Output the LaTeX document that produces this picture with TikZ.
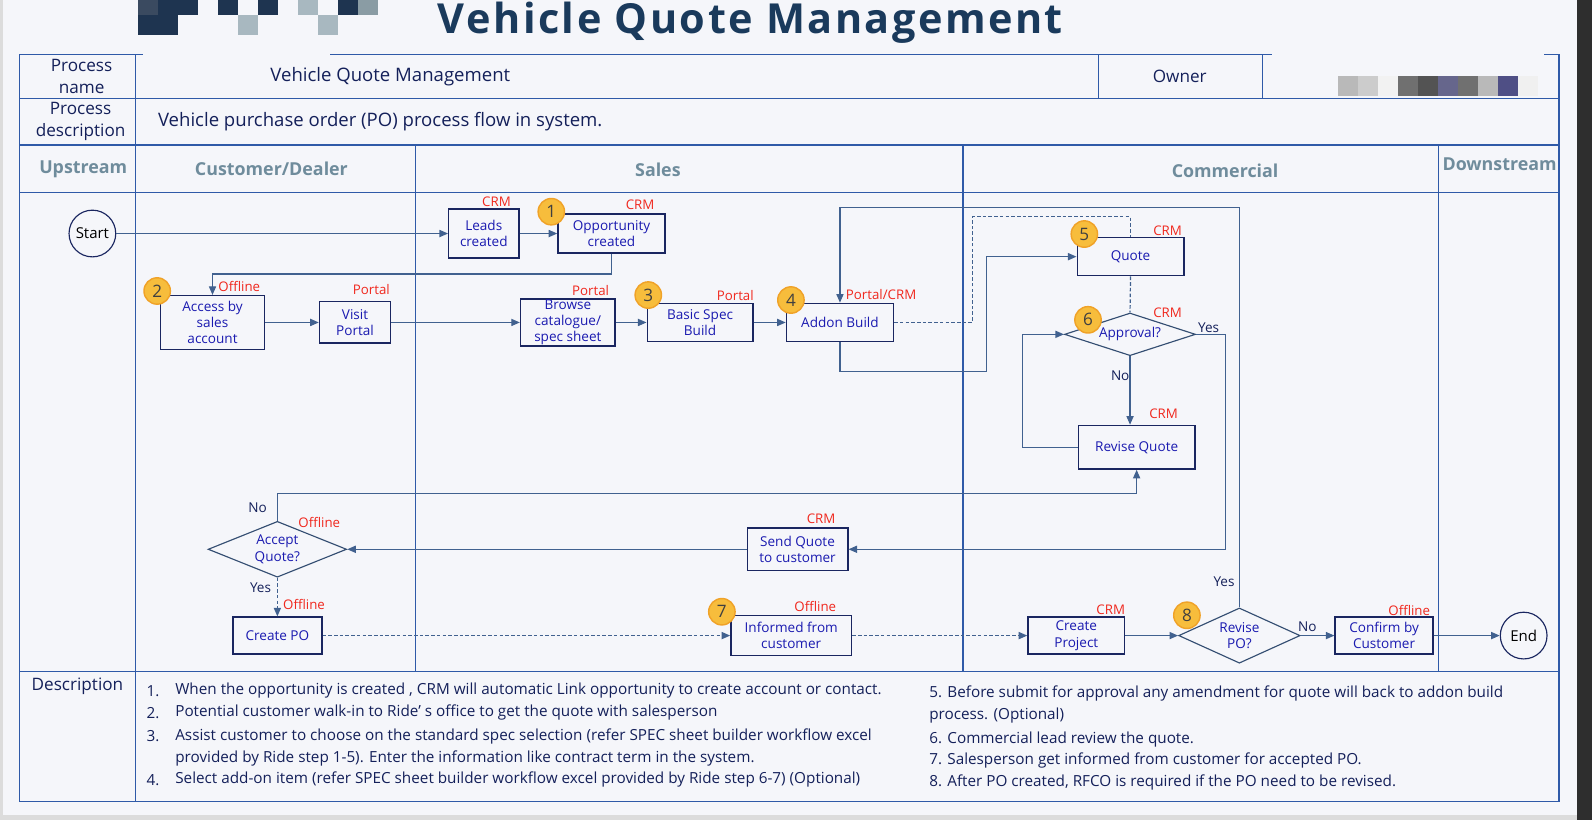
\documentclass[tikz,border=0pt]{standalone}
\usepackage{fontspec}
\setmainfont{Open Sans}
\newfontfamily\titlefont[LetterSpace=6]{Open Sans}
\usepackage{xcolor}
\usetikzlibrary{shapes.geometric, arrows.meta, calc}

\definecolor{pagebg}{HTML}{F5F6FA}
\definecolor{edgegrey}{HTML}{DCDCDC}
\definecolor{darkbar}{HTML}{2E2E2E}
\definecolor{titlenavy}{HTML}{1A3A5C}
\definecolor{gridline}{HTML}{2F5AA8}
\definecolor{lanehead}{HTML}{6F8C9C}
\definecolor{inktext}{HTML}{14205A}
\definecolor{boxtext}{HTML}{1A1AB0}
\definecolor{boxline}{HTML}{1A2660}
\definecolor{flowline}{HTML}{41618F}
\definecolor{tagred}{HTML}{F0281E}
\definecolor{badgefill}{HTML}{F7BD3C}
\definecolor{badgeline}{HTML}{F0A228}
\definecolor{mosnavy}{HTML}{1E3450}
\definecolor{mosslate}{HTML}{3A4A60}
\definecolor{mosgrey}{HTML}{A8B8C0}
\definecolor{mosgreyb}{HTML}{8A9CA4}

\begin{document}
\begin{tikzpicture}[
    x=0.025cm, y=-0.025cm,
    task/.style={rectangle, draw=boxline, line width=1pt, fill=pagebg, text=boxtext, align=center, inner sep=1pt, font=\fontsize{9.5}{11.4}\selectfont},
    decision/.style={diamond, aspect=2.5, draw=flowline!80!black, line width=0.8pt, fill=pagebg, text=boxtext, align=center, inner sep=0pt, font=\fontsize{9.5}{11.4}\selectfont},
    terminal/.style={circle, draw=boxline, line width=0.8pt, fill=pagebg, minimum size=1.15cm, inner sep=0pt, font=\fontsize{10.5}{12}\selectfont},
    tag/.style={text=tagred, inner sep=0pt, font=\fontsize{9.3}{11}\selectfont},
    badge/.style={circle, draw=badgeline, line width=1pt, fill=badgefill, minimum size=0.65cm, inner sep=0pt, text=black!75, font=\fontsize{12}{14}\selectfont},
    answer/.style={text=inktext, inner sep=1pt, font=\fontsize{9.5}{11}\selectfont},
    flow/.style={draw=flowline, line width=0.85pt, -{Triangle[length=6pt, width=5pt]}},
    dline/.style={draw=flowline, line width=0.85pt, dash pattern=on 2.5pt off 1.5pt},
    dflow/.style={flow, dash pattern=on 2.5pt off 1.5pt},
    grid/.style={draw=gridline, line width=0.75pt},
    lanehdr/.style={text=lanehead, font=\bfseries\fontsize{12.5}{15}\selectfont},
    cellhdr/.style={text=inktext, align=center, font=\fontsize{12}{15}\selectfont},
    cellval/.style={text=inktext, font=\fontsize{13}{15}\selectfont},
    note/.style={text=inktext, anchor=west, inner sep=0pt, font=\fontsize{10.7}{12.5}\selectfont}
]

% Page
\useasboundingbox (0,0) rectangle (1568,808);
\fill[pagebg] (0,0) rectangle (1568,808);
\fill[edgegrey] (0,0) rectangle (2.7,808);
\fill[edgegrey] (0,802.7) rectangle (1568,808);
\fill[darkbar] (1553,0) rectangle (1568,808);

% Mosaic blocks
\foreach \col/\top/\bot/\shade in {0/0/14.8/mosslate, 1/0/14.8/mosnavy, 2/0/14.8/mosnavy, 4/0/14.8/mosnavy, 6/0/14.8/mosnavy, 8/0/14.8/mosgrey, 10/0/14.8/mosnavy, 11/0/14.8/mosgreyb, 0/14.8/34.5/mosnavy, 1/14.8/34.5/mosnavy, 5/14.8/34.5/mosgrey, 9/14.8/34.5/mosgrey}
    \fill[\shade] ({136+19.7*\col},\top) rectangle ({155.7+19.7*\col},\bot);
\foreach \col/\shade in {0/gray!55, 1/gray!40, 2/gray!10, 3/darkgray!75, 4/darkgray!90, 5/blue!20!darkgray!75, 6/darkgray!75, 7/gray!55, 8/blue!25!darkgray!85, 9/gray!12}
    \fill[\shade] ({1318+19.7*\col},75) rectangle ({1337.7+19.7*\col},94.6);

% Title
\node[anchor=base west, inner sep=0pt, text=titlenavy, font=\titlefont\bfseries\fontsize{29}{33}\selectfont] (Title) at (431,33) {Vehicle Quote Management};

% Table
\draw[grid] (19.3,53.5) rectangle (1535.5,789);
\foreach \y in {96.8,142.8,189.4,661}
    \draw[grid] (19.3,\y) -- (1535.5,\y);
\draw[grid] (133.2,53.5) -- (133.2,789);
\foreach \x in {408.9,948.5,1417}
    \draw[grid] (\x,142.8) -- (\x,661);
\foreach \x in {1081.5,1243.6}
    \draw[grid] (\x,53.5) -- (\x,96.8);
\fill[pagebg] (141,51) rectangle (325,56);
\fill[pagebg] (1253,51) rectangle (1521,56);

% Header cells
\node[cellhdr] (ProcName) at (80.4,75.5) {Process\\name};
\node[cellval, anchor=east] (ProcValue) at (507.5,75.5) {Vehicle Quote Management};
\node[cellhdr] (Owner) at (1162,74.9) {Owner};
\node[cellhdr] (ProcDesc) at (79.4,119.8) {Process\\description};
\node[cellval, anchor=west] (ProcDescValue) at (150.7,119.8) {Vehicle purchase order (PO) process flow in system.};

% Lanes
\node[lanehdr] (Upstream) at (82,166.5) {Upstream};
\node[lanehdr] (Customer) at (267.3,166.5) {Customer/Dealer};
\node[lanehdr] (Sales) at (648,167.5) {Sales};
\node[lanehdr] (Commercial) at (1206.6,168) {Commercial};
\node[lanehdr] (Downstream) at (1477,161.5) {Downstream};

% Steps
\node[terminal] (Start) at (91,230) {Start};
\node[task, minimum width=1.725cm, minimum height=1.21cm] (Leads) at (476.5,230) {Leads\\created};
\node[task, minimum width=2.635cm, minimum height=0.9625cm] (Opp) at (602.3,230) {Opportunity\\created};
\node[task, minimum width=2.55cm, minimum height=1.32cm] (Access) at (209.3,317.6) {Access by\\sales\\account};
\node[task, minimum width=1.75cm, minimum height=1.02cm] (Visit) at (349.7,317.6) {Visit\\Portal};
\node[task, minimum width=2.33cm, minimum height=1.15cm, inner ysep=0pt] (Browse) at (559.3,317.6) {Browse\\catalogue/\\spec sheet};
\node[task, minimum width=2.6cm, minimum height=0.945cm] (Basic) at (689.5,317.6) {Basic Spec\\Build};
\node[task, minimum width=2.635cm, minimum height=0.94cm] (Addon) at (827.3,317.6) {Addon Build};
\node[task, minimum width=2.625cm, minimum height=0.94cm] (Quote) at (1113.5,252.8) {Quote};
\node[decision, minimum width=3.225cm, minimum height=1.05cm] (Approval) at (1113,329.3) {Approval?};
\node[task, minimum width=2.875cm, minimum height=1.075cm] (ReviseQ) at (1119.5,440.5) {Revise Quote};
\node[task, minimum width=2.475cm, minimum height=1.05cm] (SendQ) at (785.5,541) {Send Quote\\to customer};
\node[decision, minimum width=3.41cm, minimum height=1.375cm] (Accept) at (273.2,541) {Accept\\Quote?};
\node[task, minimum width=2.19cm, minimum height=0.91cm] (CreatePO) at (273.2,626) {Create PO};
\node[task, minimum width=2.97cm, minimum height=0.975cm] (Informed) at (779.3,626) {Informed from\\customer};
\node[task, minimum width=2.38cm, minimum height=0.91cm] (Project) at (1060.1,626) {Create\\Project};
\node[decision, minimum width=2.99cm, minimum height=1.36cm] (RevisePO) at (1220.7,626) {Revise\\PO?};
\node[task, minimum width=2.41cm, minimum height=0.905cm] (Confirm) at (1363.2,626) {Confirm by\\Customer};
\node[terminal] (End) at (1500.7,626) {End};

% Systems
\node[tag] (LeadsSys) at (489,198.6) {CRM};
\node[tag] (OppSys) at (630.5,202) {CRM};
\node[tag] (AccessSys) at (235.7,281.7) {Offline};
\node[tag] (VisitSys) at (365.8,285.6) {Portal};
\node[tag] (BrowseSys) at (581.7,286.6) {Portal};
\node[tag] (BasicSys) at (724.2,290.6) {Portal};
\node[tag] (AddonSys) at (867.8,289.9) {Portal/CRM};
\node[tag] (QuoteSys) at (1150,227.5) {CRM};
\node[tag] (ApprovalSys) at (1150,308.5) {CRM};
\node[tag] (ReviseQSys) at (1146,408) {CRM};
\node[tag] (SendQSys) at (808.7,511) {CRM};
\node[tag] (AcceptSys) at (314.5,515) {Offline};
\node[tag] (CreatePOSys) at (299.5,595) {Offline};
\node[tag] (InformedSys) at (803,597.5) {Offline};
\node[tag] (ProjectSys) at (1094,601) {CRM};
\node[tag] (ConfirmSys) at (1388,601) {Offline};

% Step numbers
\node[badge] (Step1) at (543,208.5) {1};
\node[badge] (Step2) at (154.8,286.6) {2};
\node[badge] (Step3) at (638.5,290.6) {3};
\node[badge] (Step4) at (779,295.5) {4};
\node[badge] (Step5) at (1068,230.5) {5};
\node[badge] (Step6) at (1071.6,315) {6};
\node[badge] (Step7) at (711,602.5) {7};
\node[badge] (Step8) at (1169,606) {8};

% Flow
\draw[flow] (Start) -- (Leads);
\draw[flow] (Leads) -- (Opp);
\draw[flow] (Opp.south) -- ++(0,20) -| (Access.north);
\draw[flow] (Access) -- (Visit);
\draw[flow] (Visit) -- (Browse);
\draw[flow] (Browse) -- (Basic);
\draw[flow] (Basic) -- (Addon);
\draw[flow] (Addon.south) -- ++(0,29) -- ++(144,0) |- (Quote.west);
\draw[dline] (Addon.east) -- ++(77,0) -- ++(0,-104) -| (Quote.north);
\draw[dline] (Quote.south) -- (Approval.north);
\draw[flow] (Approval.south) -- node[answer, pos=0.28, left, inner sep=0pt] {No} (Approval.south |- ReviseQ.north);
\draw[flow] (ReviseQ.west) -- ++(-54,0) |- (Approval.west);
\draw[flow] (Approval.east) node[answer, above right] {Yes} -- ++(29,0) |- (SendQ.east);
\draw[flow] (SendQ) -- (Accept);
\draw[flow] (Accept.north) -- node[answer, left=6pt] {No} ++(0,-26.5) -| (ReviseQ.south);
\draw[dflow] (Accept.south) -- node[answer, pos=0.25, left=3pt] {Yes} (CreatePO.north);
\draw[dflow] (CreatePO) -- (Informed);
\draw[dflow] (Informed) -- (Project);
\draw[flow] (Project) -- (RevisePO);
\draw[flow] (RevisePO) -- node[answer, pos=0.2, above=1pt] {No} (Confirm);
\draw[flow] (Confirm) -- (End);
\draw[flow] (RevisePO.north) -- node[answer, pos=0.063, left=2pt] {Yes} ++(0,-394) -| (Addon.north);

% Description
\node[cellhdr] (DescHead) at (76.3,676.3) {Description};
\foreach \i/\y/\txt in {1/680.3/{When the opportunity is created , CRM will automatic Link opportunity to create account or contact.}, 2/702/{Potential customer walk-in to Ride’ s office to get the quote with salesperson}, 3/725/{Assist customer to choose on the standard spec selection (refer SPEC sheet builder workflow excel}, 4/768.2/{Select add-on item (refer SPEC sheet builder workflow excel provided by Ride step 6-7) (Optional)}}
{
    \node[note] (ItemNum\i) at (144.2,\y) {\i.};
    \node[note] (ItemText\i) at (172.4,\y) {\txt};
}
\node[note] (ItemMore3) at (172.4,747.3) {provided by Ride step 1-5). Enter the information like contract term in the system.};
\foreach \i/\y/\txt in {5/683/{5. Before submit for approval any amendment for quote will back to addon build}, 6/704.3/{process. (Optional)}, 7/728.2/{6. Commercial lead review the quote.}, 8/749.2/{7. Salesperson get informed from customer for accepted PO.}, 9/770.9/{8. After PO created, RFCO is required if the PO need to be revised.}}
    \node[note] (NoteLine\i) at (915,\y) {\txt};

\end{tikzpicture}
\end{document}
